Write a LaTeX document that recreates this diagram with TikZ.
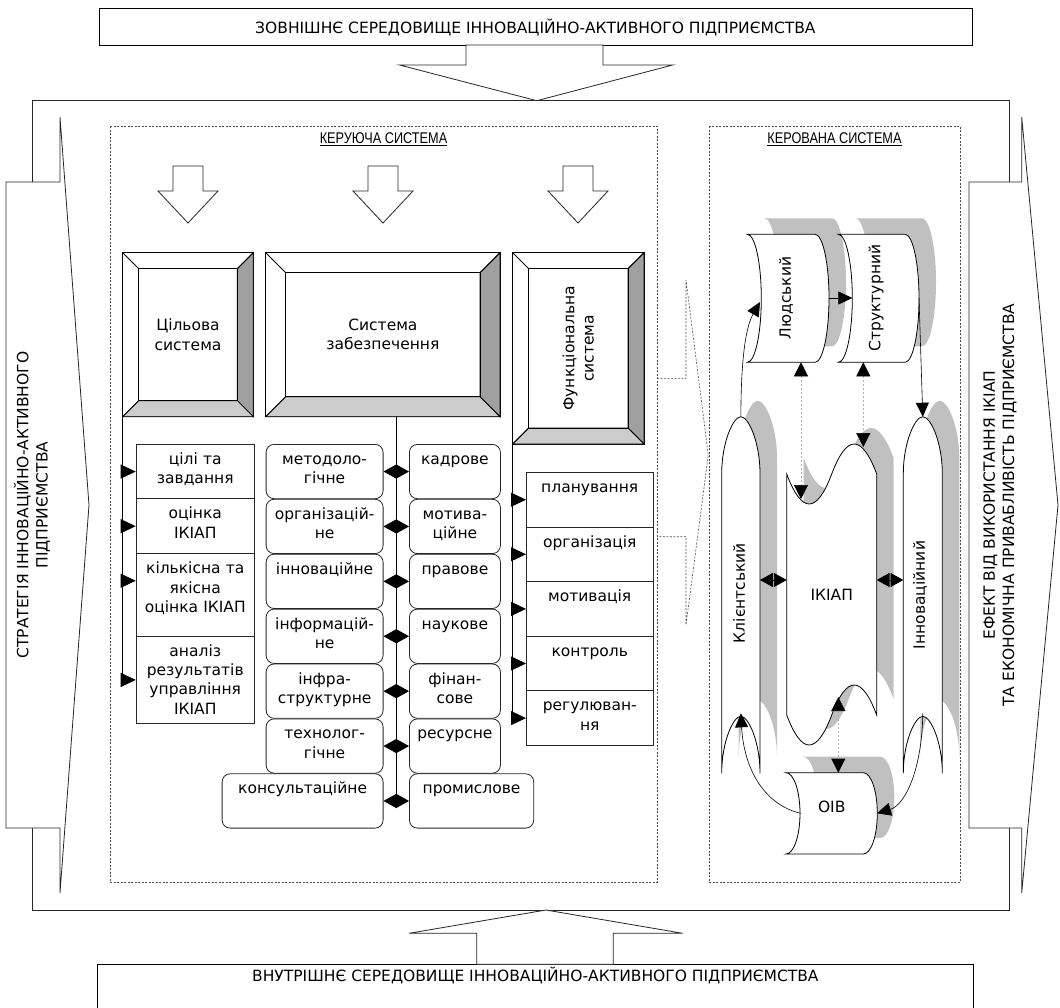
\documentclass[tikz,border=0pt]{standalone}
\usepackage{fontspec}
\setmainfont{DejaVu Sans}
\newfontfamily\narrowfont[FakeStretch=0.82]{Liberation Sans}
\usetikzlibrary{arrows.meta,calc}

\definecolor{bevelright}{RGB}{160,160,160}
\definecolor{bevelbottom}{RGB}{204,204,204}
\definecolor{shadowgray}{RGB}{192,192,192}

\newcommand{\bodysize}{\fontsize{15.5}{19.3}\selectfont}
\newcommand{\headsize}{\narrowfont\fontsize{15.5}{18}\selectfont}

% bevelled box: x1 y1 x2 y2 bevel
\newcommand{\bevelbox}[5]{%
  \filldraw[fill=white] (#1,#2) rectangle (#3,#4);
  \filldraw[fill=bevelright] (#3,#2) -- (#3,#4) -- ({#3-#5},{#4-#5}) -- ({#3-#5},{#2+#5}) -- cycle;
  \filldraw[fill=bevelbottom] (#1,#4) -- (#3,#4) -- ({#3-#5},{#4-#5}) -- ({#1+#5},{#4-#5}) -- cycle;
  \draw (#1,#2) -- ({#1+#5},{#2+#5}) (#3,#2) -- ({#3-#5},{#2+#5}) (#1,#4) -- ({#1+#5},{#4-#5});
  \draw ({#1+#5},{#2+#5}) rectangle ({#3-#5},{#4-#5});
}

% stored data, sides bowed right: x1 x2 ytop ybot bulge
\newcommand{\storedpath}[5]{%
  ({#1},{#3}) -- ({#2},{#3})
  .. controls ({#2+0.552*#5},{#3}) and ({#2+#5},{(#3+#4)/2-0.276*(#4-#3)}) .. ({#2+#5},{(#3+#4)/2})
  .. controls ({#2+#5},{(#3+#4)/2+0.276*(#4-#3)}) and ({#2+0.552*#5},{#4}) .. ({#2},{#4})
  -- ({#1},{#4})
  .. controls ({#1+0.552*#5},{#4}) and ({#1+#5},{(#3+#4)/2+0.276*(#4-#3)}) .. ({#1+#5},{(#3+#4)/2})
  .. controls ({#1+#5},{(#3+#4)/2-0.276*(#4-#3)}) and ({#1+0.552*#5},{#3}) .. ({#1},{#3}) -- cycle}

% stored data, arcs bowed up: x1 x2 ytop ybot arc
\newcommand{\archpath}[5]{%
  ({#1},{#3+#5})
  .. controls ({#1},{#3+0.45*#5}) and ({(#1+#2)/2-0.2*(#2-#1)},{#3}) .. ({(#1+#2)/2},{#3})
  .. controls ({(#1+#2)/2+0.2*(#2-#1)},{#3}) and ({#2},{#3+0.45*#5}) .. ({#2},{#3+#5})
  -- ({#2},{#4})
  .. controls ({#2},{#4-0.55*#5}) and ({(#1+#2)/2+0.2*(#2-#1)},{#4-#5}) .. ({(#1+#2)/2},{#4-#5})
  .. controls ({(#1+#2)/2-0.2*(#2-#1)},{#4-#5}) and ({#1},{#4-0.55*#5}) .. ({#1},{#4}) -- cycle}

% punched tape, standing: x1 x2 ytop ybot amplitude
\newcommand{\tapepath}[5]{%
  ({#1},{#3})
  .. controls ({#1+(#2-#1)/6},{#3+1.333*#5}) and ({#1+(#2-#1)/3},{#3+1.333*#5}) .. ({(#1+#2)/2},{#3})
  .. controls ({#2-(#2-#1)/3},{#3-1.333*#5}) and ({#2-(#2-#1)/6},{#3-1.333*#5}) .. ({#2},{#3})
  -- ({#2},{#4})
  .. controls ({#2-(#2-#1)/6},{#4-1.333*#5}) and ({#2-(#2-#1)/3},{#4-1.333*#5}) .. ({(#1+#2)/2},{#4})
  .. controls ({#1+(#2-#1)/3},{#4+1.333*#5}) and ({#1+(#2-#1)/6},{#4+1.333*#5}) .. ({#1},{#4}) -- cycle}

\tikzset{
  listbox/.style 2 args={draw=black!85, rectangle, anchor=north west, inner xsep=1pt, inner ysep=0pt,
    align=center, font=\bodysize, text width=#1, text height=20pt, text depth=#2},
  roundbox/.style 2 args={listbox={#1}{#2}, rounded corners=8pt},
  tip/.style={-{Triangle[length=15pt,width=14pt]}},
  dbltip/.style={{Triangle[length=12.8pt,width=14pt]}-{Triangle[length=12.8pt,width=14pt]}},
  thintip/.style={-{Triangle[length=14pt,width=13pt]}, line width=0.6pt},
  dashtip/.style={{Triangle[length=14pt,width=14pt,black]}-{Triangle[length=14pt,width=14pt,black]},
    draw=gray!60, dash pattern=on 2pt off 2pt, line width=0.6pt},
  dashbox/.style={draw=black!70, dash pattern=on 2pt off 1.5pt, line width=0.6pt},
  hollow/.style={draw=black!85, fill=white},
}

\begin{document}
\begin{tikzpicture}[x=1pt,y=-1pt,line width=0.8pt]
\useasboundingbox (0,0) rectangle (1060,1007);
\clip (0,0) rectangle (1060,1007);

% environment
\node[draw, anchor=north west, minimum width=873pt, minimum height=37pt, font=\bodysize] (ext) at (98.5,8.3)
  {ЗОВНІШНЄ СЕРЕДОВИЩЕ ІННОВАЦІЙНО-АКТИВНОГО ПІДПРИЄМСТВА};
\node[draw, anchor=north west, minimum width=876pt, inner ysep=0pt, text height=17pt, text depth=43pt,
  font=\bodysize] (int) at (97,964.3) {ВНУТРІШНЄ СЕРЕДОВИЩЕ ІННОВАЦІЙНО-АКТИВНОГО ПІДПРИЄМСТВА};

\draw[draw=black!85] (32,100.7) rectangle (1009,910);
\filldraw[hollow] (466,45) -- (603,45) -- (603,65) -- (672.7,65) -- (536.8,100.7) -- (399.5,65) -- (466,65) -- cycle;
\filldraw[hollow] (476.7,964.3) -- (476.7,933.3) -- (409,933.3) -- (546,910) -- (682.7,933.3) -- (613.3,933.3) -- (613.3,964.3) -- cycle;

% strategy and effect
\filldraw[hollow] (6,182) -- (60,182) -- (60,117) -- (89,505) -- (60,893) -- (60,828) -- (6,828) -- cycle;
\node[rotate=90, align=center, font=\bodysize] (strat) at (32,505)
  {СТРАТЕГІЯ ІННОВАЦІЙНО-АКТИВНОГО\\ПІДПРИЄМСТВА};
\filldraw[hollow] (969,182) -- (1021.7,182) -- (1021.7,117) -- (1058,505) -- (1021.7,893) -- (1021.7,828) -- (969,828) -- cycle;
\node[rotate=90, align=center, font=\bodysize] (effect) at (1000,505)
  {ЕФЕКТ ВІД ВИКОРИСТАННЯ ІКІАП\\ТА ЕКОНОМІЧНА ПРИВАБЛИВІСТЬ ПІДПРИЄМСТВА};

% two systems
\draw[dashbox] (110,126) rectangle (657,882);
\draw[dashbox] (709,126) rectangle (960,882);
\node[font=\headsize] (ctrl) at (383.5,139) {\underline{КЕРУЮЧА СИСТЕМА}};
\node[font=\headsize] (ctrd) at (834.5,139) {\underline{КЕРОВАНА СИСТЕМА}};

\foreach \x in {188,383,578}
  \filldraw[hollow] (\x-15,166) -- (\x+15,166) -- (\x+15,191) -- (\x+30,191) -- (\x,223) -- (\x-30,191) -- (\x-15,191) -- cycle;

\bevelbox{122.7}{252.7}{253.3}{416.7}{16}
\bevelbox{265.7}{252.7}{500}{416.7}{20}
\bevelbox{512.7}{252.7}{644}{444}{16}
\node[align=center, font=\bodysize] (ts) at (188,334.7) {Цільова\\система};
\node[align=center, font=\bodysize] (sz) at (382.9,334.7) {Система\\забезпечення};
\node[rotate=90, align=center, font=\bodysize] (fs) at (578.3,348.3) {Функціональна\\система};
\coordinate (ts-sw) at (122.7,416.7);
\coordinate (sz-s) at (396,416.7);
\coordinate (sz-end) at (396,806.7);
\coordinate (fs-sw) at (512.7,444);

% goal system
\node[listbox={116.3pt}{34.3pt}] (g1) at (135.7,444) {цілі та\\завдання};
\node[listbox={116.3pt}{35pt}] (g2) at (135.7,498.3) {оцінка\\ІКІАП};
\node[listbox={116.3pt}{62.4pt}] (g3) at (135.7,553.3) {кількісна та\\якісна\\оцінка ІКІАП};
\node[listbox={116.3pt}{67.6pt}] (g4) at (135.7,635.7) {аналіз\\результатів\\управління\\ІКІАП};
\foreach \n in {g1,g2,g4}
  \draw[tip] (ts-sw) |- (\n.west);
\draw[tip] (ts-sw) |- ($(g3.north west)!0.33!(g3.south west)$);

% support system
\node[roundbox={115pt}{34.3pt}] (m1) at (265.7,444) {методоло-\\гічне};
\node[roundbox={89pt}{34.3pt}] (k1) at (409,444) {кадрове};
\node[roundbox={115pt}{34.3pt}] (m2) at (265.7,498.9) {організацій-\\не};
\node[roundbox={89pt}{34.3pt}] (k2) at (409,498.9) {мотива-\\ційне};
\node[roundbox={115pt}{34.3pt}] (m3) at (265.7,553.8) {інноваційне};
\node[roundbox={89pt}{34.3pt}] (k3) at (409,553.8) {правове};
\node[roundbox={115pt}{34.3pt}] (m4) at (265.7,608.7) {інформацій-\\не};
\node[roundbox={89pt}{34.3pt}] (k4) at (409,608.7) {наукове};
\node[roundbox={115pt}{34.3pt}] (m5) at (265.7,663.6) {інфра-\\структурне};
\node[roundbox={89pt}{34.3pt}] (k5) at (409,663.6) {фінан-\\сове};
\node[roundbox={115pt}{34.3pt}] (m6) at (265.7,718.5) {технолог-\\гічне};
\node[roundbox={89pt}{34.3pt}] (k6) at (409,718.5) {ресурсне};
\node[roundbox={159pt}{34.3pt}] (m7) at (221.7,773.4) {консультаційне};
\node[roundbox={122.3pt}{34.3pt}] (k7) at (409,773.4) {промислове};
\draw (sz-s) -- (sz-end);
\foreach \i in {1,...,7}
  \draw[dbltip] (m\i.east) -- (k\i.west);

% functional system
\node[listbox={124.7pt}{34.6pt}] (p1) at (526,472) {планування};
\node[listbox={124.7pt}{34.6pt}] (p2) at (526,526.6) {організація};
\node[listbox={124.7pt}{34.6pt}] (p3) at (526,581.2) {мотивація};
\node[listbox={124.7pt}{34.6pt}] (p4) at (526,635.8) {контроль};
\node[listbox={124.7pt}{34.6pt}] (p5) at (526,690.4) {регулюван-\\ня};
\foreach \i in {1,...,5}
  \draw[tip] (fs-sw) |- (p\i.west);

\draw[dashbox] (657,378.3) -- (686,378.3) -- (686,280) -- (708.3,455) -- (686,625) -- (686,536.7) -- (657,536.7);

% managed system
\begin{scope}[shift={(17,-16)}]
  \fill[shadowgray] \storedpath{747.3}{815}{234.3}{362.3}{14};
  \fill[shadowgray] \storedpath{838.3}{905}{234.3}{362.3}{14};
  \fill[shadowgray] \archpath{721.7}{760}{416.7}{773.3}{57};
  \fill[shadowgray] \archpath{903.3}{942.3}{416.7}{773.3}{57};
  \fill[shadowgray] \tapepath{786.7}{876.7}{474}{715}{30};
  \fill[shadowgray] \storedpath{786}{863.3}{772.7}{854}{14};
\end{scope}
\filldraw[fill=white] \storedpath{747.3}{815}{234.3}{362.3}{14};
\filldraw[fill=white] \storedpath{838.3}{905}{234.3}{362.3}{14};
\filldraw[fill=white] \archpath{721.7}{760}{416.7}{773.3}{57};
\filldraw[fill=white] \archpath{903.3}{942.3}{416.7}{773.3}{57};
\filldraw[fill=white] \tapepath{786.7}{876.7}{474}{715}{30};
\filldraw[fill=white] \storedpath{786}{863.3}{772.7}{854}{14};

\node[rotate=90, font=\bodysize] (hum) at (786,298) {Людський};
\node[rotate=90, font=\bodysize] (str) at (876,298) {Структурний};
\node[rotate=90, font=\bodysize] (cli) at (739,593) {Клієнтський};
\node[font=\bodysize] (ikiap) at (831.7,595) {ІКІАП};
\node[rotate=90, font=\bodysize] (inn) at (920,595) {Інноваційний};
\node[font=\bodysize] (oiv) at (831.7,807) {ОІВ};

\coordinate (hum-e) at (829,298);
\coordinate (hum-w) at (760,302);
\coordinate (hum-s) at (801,362.3);
\coordinate (str-w) at (852.3,298);
\coordinate (str-e) at (919,298);
\coordinate (str-s) at (863.3,362.3);
\coordinate (cli-n) at (740.85,416.7);
\coordinate (cli-e) at (760,580);
\coordinate (cli-s) at (740.85,713.3);
\coordinate (inn-n) at (922.8,416.7);
\coordinate (inn-w) at (903.3,580);
\coordinate (inn-s) at (922.8,713.3);
\coordinate (ik-n1) at (801,499);
\coordinate (ik-n2) at (863.3,447);
\coordinate (ik-w) at (786.7,580);
\coordinate (ik-e) at (876.7,580);
\coordinate (ik-s) at (838.3,697);
\coordinate (oiv-n) at (838.3,772.7);
\coordinate (oiv-w) at (800.7,813.3);
\coordinate (oiv-e) at (877,813.3);

\draw[thintip] (hum-e) -- (str-w);
\draw[thintip] (cli-n) .. controls (741,370) and (744,330) .. (hum-w);
\draw[thintip] (str-e) -- (inn-n);
\draw[thintip] (oiv-w) .. controls (765,805) and (744,770) .. (cli-s);
\draw[thintip] (inn-s) .. controls (922,770) and (905,805) .. (oiv-e);
\draw[dbltip] (cli-e) -- (ik-w);
\draw[dbltip] (ik-e) -- (inn-w);
\draw[dashtip] (hum-s) -- (ik-n1);
\draw[dashtip] (str-s) -- (ik-n2);
\draw[dashtip] (ik-s) -- (oiv-n);
\end{tikzpicture}
\end{document}
